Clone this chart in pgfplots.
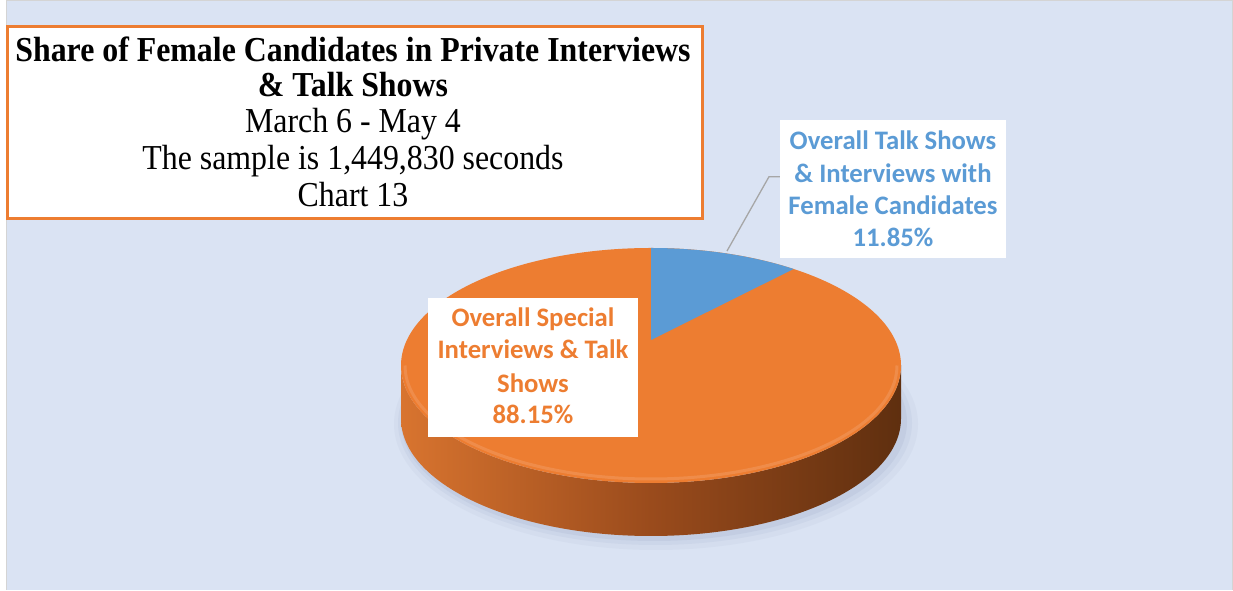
\documentclass[border=0pt]{standalone}
\usepackage{fontspec}
\setmainfont{Liberation Serif}
\newfontfamily\titlefont[FakeStretch=0.91]{Liberation Serif}
\newfontfamily\calibri{Carlito}
\usepackage{pgfplots}
\usepackage{pgfplotstable}
\pgfplotsset{compat=1.18}
\definecolor{bgblue}{HTML}{DAE3F3}
\definecolor{pieorange}{HTML}{ED7D31}
\definecolor{pieblue}{HTML}{5B9BD5}
\definecolor{leader}{HTML}{A6A6A6}
\definecolor{framec}{HTML}{D4D4D4}
\definecolor{sideL}{HTML}{D8742F}
\definecolor{sideM}{HTML}{9A4B1C}
\definecolor{sideR}{HTML}{5F2F0F}
\definecolor{shadowc}{HTML}{8E9DBD}

\pgfplotstableread{
slice value
Female 11.85
Other 88.15
}\piedata

\begin{document}
\begin{tikzpicture}
\pgfplotstablegetelem{0}{value}\of\piedata
\pgfmathsetmacro{\vA}{\pgfplotsretval}
\pgfmathsetmacro{\phiE}{90-3.6*\vA}
\pgfmathsetmacro{\pxE}{651+1125*cos(\phiE)/(4.61+sin(\phiE))}
\pgfmathsetmacro{\pyE}{250+516*sin(\phiE)/(4.61+sin(\phiE))}
\pgfmathsetmacro{\tE}{atan2((\pyE-224.5)/117.5,(\pxE-651)/250)}
\begin{axis}[width=1233pt,height=590pt,scale only axis,
  xmin=0,xmax=1233,ymin=0,ymax=590,axis lines=none,clip=false]
% background
\fill[white] (axis cs:0,0) rectangle (axis cs:1233,590);
\fill[bgblue] (axis cs:6.5,0) rectangle (axis cs:1232.5,589.5);
\draw[framec, line width=1pt] (axis cs:6.5,0) -- (axis cs:6.5,589.5) -- (axis cs:1232.5,589.5) -- (axis cs:1232.5,0);
% soft shadow
\fill[shadowc,opacity=0.08] (axis cs:656,166) ellipse [x radius=262, y radius=126];
\fill[shadowc,opacity=0.10] (axis cs:655,167) ellipse [x radius=257, y radius=122];
\fill[shadowc,opacity=0.14] (axis cs:654,168) ellipse [x radius=253, y radius=119];
% side of the pie
\shade[left color=sideL, right color=sideR, middle color=sideM]
  (axis cs:401,224.5) -- (axis cs:401,171.5)
  arc[start angle=180,end angle=360,x radius=250,y radius=117.5]
  -- (axis cs:901,224.5)
  arc[start angle=0,end angle=-180,x radius=250,y radius=117.5] -- cycle;
% top face
\fill[pieorange] (axis cs:651,224.5) ellipse [x radius=250, y radius=117.5];
\draw[white, opacity=0.12, line width=3pt] (axis cs:405,224.5)
  arc[start angle=180,end angle=360,x radius=246,y radius=113.5];
% blue slice
\fill[pieblue] (axis cs:651,250) -- (axis cs:651,342)
  arc[start angle=90,end angle=\tE,x radius=250,y radius=117.5] -- cycle;
% leader line
\draw[leader, line width=1.3pt] (axis cs:727,339) -- (axis cs:769,413.3) -- (axis cs:780,413.3);
% title box
\draw[pieorange, line width=3pt, fill=white] (axis cs:7.5,563) rectangle (axis cs:702,371);
\node[anchor=base, font=\titlefont\fontsize{35}{36}\selectfont\bfseries] at (axis cs:353,528.3) {Share of Female Candidates in Private Interviews};
\node[anchor=base, font=\titlefont\fontsize{35}{36}\selectfont\bfseries] at (axis cs:353,493.3) {\& Talk Shows};
\node[anchor=base, font=\titlefont\fontsize{35}{36}\selectfont] at (axis cs:353,457) {March 6 - May 4};
\node[anchor=base, font=\titlefont\fontsize{35}{36}\selectfont] at (axis cs:353,420) {The sample is 1,449,830 seconds};
\node[anchor=base, font=\titlefont\fontsize{35}{36}\selectfont] at (axis cs:353,383.3) {Chart 13};
% blue label
\fill[white] (axis cs:780,470) rectangle (axis cs:1006,332);
\node[anchor=base, text=pieblue, font=\calibri\bfseries\fontsize{26.7}{32}\selectfont] at (axis cs:893,440) {Overall Talk Shows};
\node[anchor=base, text=pieblue, font=\calibri\bfseries\fontsize{26.7}{32}\selectfont] at (axis cs:893,407.5) {\& Interviews with};
\node[anchor=base, text=pieblue, font=\calibri\bfseries\fontsize{26.7}{32}\selectfont] at (axis cs:893,375) {Female Candidates};
\node[anchor=base, text=pieblue, font=\calibri\bfseries\fontsize{26.7}{32}\selectfont] at (axis cs:893,343) {11.85\%};
% orange label
\fill[white] (axis cs:428,292) rectangle (axis cs:638,153);
\node[anchor=base, text=pieorange, font=\calibri\bfseries\fontsize{26.7}{32}\selectfont] at (axis cs:533,263) {Overall Special};
\node[anchor=base, text=pieorange, font=\calibri\bfseries\fontsize{26.7}{32}\selectfont] at (axis cs:533,231) {Interviews \& Talk};
\node[anchor=base, text=pieorange, font=\calibri\bfseries\fontsize{26.7}{32}\selectfont] at (axis cs:533,197.5) {Shows};
\node[anchor=base, text=pieorange, font=\calibri\bfseries\fontsize{26.7}{32}\selectfont] at (axis cs:533,166) {88.15\%};
\end{axis}
\end{tikzpicture}
\end{document}
